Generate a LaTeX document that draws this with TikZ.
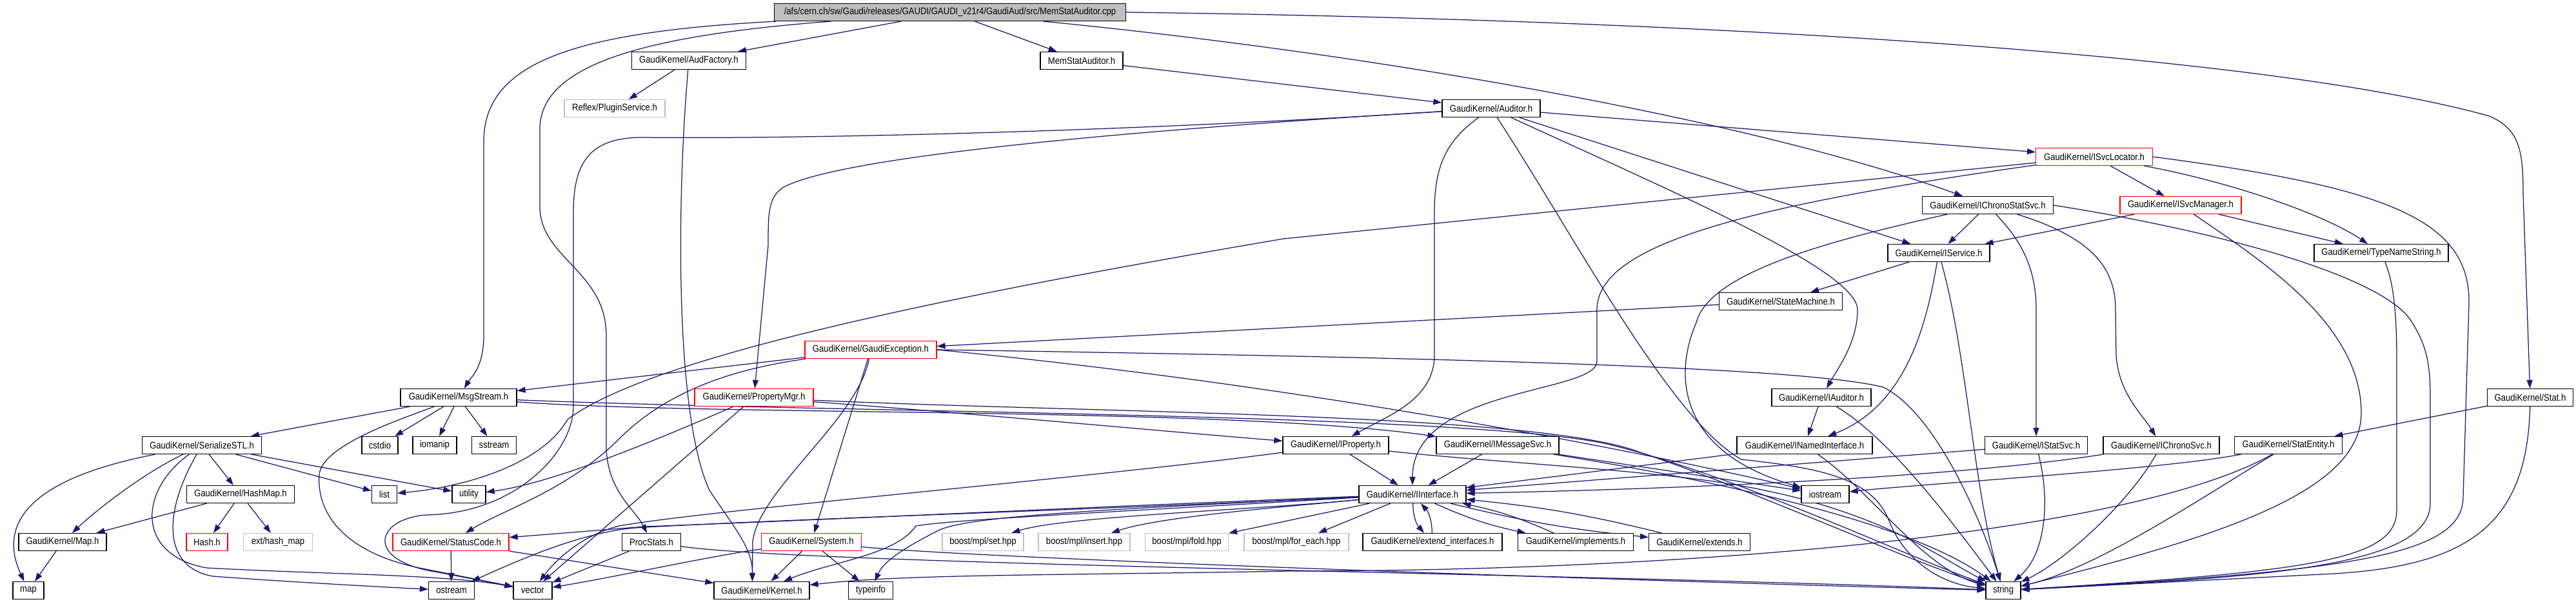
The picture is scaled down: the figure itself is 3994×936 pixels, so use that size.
\documentclass[tikz,border=0pt]{standalone}
\usepackage{fontspec}
\setmainfont{Liberation Sans}[FakeStretch=0.88]
\usepackage{tikz}
\usetikzlibrary{arrows.meta}
\definecolor{edgeblue}{HTML}{191970}
\definecolor{extgray}{HTML}{BFBFBF}
\newcommand{\gfont}{\fontsize{14.9pt}{16pt}\selectfont}
\pgfdeclarelayer{bg}
\pgfsetlayers{bg,main}

\begin{document}
\begin{tikzpicture}[x=1pt, y=-1pt,
  every node/.style={font=\gfont},
  file/.style={rectangle, draw=black, line width=1.2pt, fill=white, minimum height=27pt, inner sep=3pt},
  hidfile/.style={file, draw=red},
  extfile/.style={file, draw=extgray},
  srcfile/.style={file, fill=extgray},
  dep/.style={draw=edgeblue, line width=1.25pt, -{Triangle[length=13pt,width=9pt]}}
]
\useasboundingbox (0,0) rectangle (3994,936);

%========== top rows ==========
\node[srcfile, minimum width=545pt] (root) at (1473,19) {/afs/cern.ch/sw/Gaudi/releases/GAUDI/GAUDI\_v21r4/GaudiAud/src/MemStatAuditor.cpp};
\node[file, minimum width=177pt] (audfac) at (1068,94) {GaudiKernel/AudFactory.h};
\node[file, minimum width=128pt] (memaud) at (1677,94) {MemStatAuditor.h};
\node[extfile, minimum width=156pt] (plugin) at (953,168) {Reflex/PluginService.h};
\node[file, minimum width=152pt] (auditor) at (2312,168) {GaudiKernel/Auditor.h};
\node[hidfile, minimum width=181pt] (svcloc) at (3247,243) {GaudiKernel/ISvcLocator.h};
\node[file, minimum width=203pt] (chronostat) at (3082,318) {GaudiKernel/IChronoStatSvc.h};
\node[hidfile, minimum width=188pt] (svcmgr) at (3381,318) {GaudiKernel/ISvcManager.h};
\node[file, minimum width=158pt] (iservice) at (3006,392) {GaudiKernel/IService.h};
\node[file, minimum width=208pt] (tnstring) at (3692,392) {GaudiKernel/TypeNameString.h};
\node[file, minimum width=191pt] (statemach) at (2761,467) {GaudiKernel/StateMachine.h};
\node[hidfile, minimum width=204pt] (gexc) at (1350,542) {GaudiKernel/GaudiException.h};

%========== middle rows ==========
\node[file, minimum width=180pt] (msgstream) at (711,616) {GaudiKernel/MsgStream.h};
\node[hidfile, minimum width=184pt] (propmgr) at (1169,616) {GaudiKernel/PropertyMgr.h};
\node[file, minimum width=154pt] (iauditor) at (2824,616) {GaudiKernel/IAuditor.h};
\node[file, minimum width=133pt] (stat) at (3923,616) {GaudiKernel/Stat.h};

\node[file, minimum width=185pt] (serial) at (313,690) {GaudiKernel/SerializeSTL.h};
\node[file, minimum width=56pt] (cstdio) at (589,690) {cstdio};
\node[file, minimum width=68pt] (iomanip) at (674,690) {iomanip};
\node[file, minimum width=69pt] (sstream) at (766,690) {sstream};
\node[file, minimum width=164pt] (iprop) at (2071,690) {GaudiKernel/IProperty.h};
\node[file, minimum width=190pt] (imsgsvc) at (2322,690) {GaudiKernel/IMessageSvc.h};
\node[file, minimum width=210pt] (inamed) at (2798,690) {GaudiKernel/INamedInterface.h};
\node[file, minimum width=159pt] (istatsvc) at (3157,690) {GaudiKernel/IStatSvc.h};
\node[file, minimum width=180pt] (ichrono) at (3351,690) {GaudiKernel/IChronoSvc.h};
\node[file, minimum width=167pt] (statentity) at (3548,690) {GaudiKernel/StatEntity.h};

\node[file, minimum width=167pt] (hashmap) at (373,766) {GaudiKernel/HashMap.h};
\node[file, minimum width=39pt] (list) at (596,766) {list};
\node[file, minimum width=52pt] (utility) at (727,766) {utility};
\node[file, minimum width=166pt] (iiface) at (2190,766) {GaudiKernel/IInterface.h};
\node[file, minimum width=74pt] (iostream) at (2830,766) {iostream};

%========== bottom rows ==========
\node[file, minimum width=136pt] (mapH) at (97,840) {GaudiKernel/Map.h};
\node[hidfile, minimum width=64pt] (hash) at (321,840) {Hash.h};
\node[extfile, minimum width=107pt] (exthash) at (431,840) {ext/hash\_map};
\node[hidfile, minimum width=180pt] (statcode) at (699,840) {GaudiKernel/StatusCode.h};
\node[file, minimum width=91pt] (procstats) at (1010,840) {ProcStats.h};
\node[hidfile, minimum width=155pt] (system) at (1258,840) {GaudiKernel/System.h};
\node[extfile, minimum width=126pt] (mplset) at (1524,840) {boost/mpl/set.hpp};
\node[extfile, minimum width=142pt] (mplinsert) at (1681,840) {boost/mpl/insert.hpp};
\node[extfile, minimum width=129pt] (mplfold) at (1840,840) {boost/mpl/fold.hpp};
\node[extfile, minimum width=162pt] (mplforeach) at (2010,840) {boost/mpl/for\_each.hpp};
\node[file, minimum width=216pt] (extif) at (2221,840) {GaudiKernel/extend\_interfaces.h};
\node[file, minimum width=179pt] (implements) at (2443,840) {GaudiKernel/implements.h};
\node[file, minimum width=157pt] (extends) at (2635,840) {GaudiKernel/extends.h};

\node[file, minimum width=48pt] (map) at (44,915) {map};
\node[file, minimum width=71pt] (ostream) at (700,915) {ostream};
\node[file, minimum width=60pt] (vector) at (826,915) {vector};
\node[file, minimum width=148pt] (kernel) at (1181,915) {GaudiKernel/Kernel.h};
\node[file, minimum width=69pt] (typeinfo) at (1350,915) {typeinfo};
\node[file, minimum width=54pt] (string) at (3106,915) {string};

\begin{pgfonlayer}{bg}
\fill[white] (0,0) rectangle (3994,936);
%========== source file ==========
\draw[dep] (root) -- (audfac);
\draw[dep] (root) -- (memaud);
\draw[dep] (root) .. controls (880,50) and (750,100) .. (750,220) -- (750,520) .. controls (750,570) and (730,585) .. (msgstream);
\draw[dep] (root) .. controls (1000,55) and (837,100) .. (837,200) -- (837,320) .. controls (837,400) and (940,420) .. (940,520) -- (940,690) .. controls (940,760) and (985,790) .. (procstats);
\draw[dep] (root) .. controls (2100,80) and (2700,180) .. (chronostat);
\draw[dep] (root.east) .. controls (2600,30) and (3500,80) .. (3860,180) .. controls (3905,200) and (3912,230) .. (3912,300) -- (stat);

%========== AudFactory, MemStatAuditor, Auditor ==========
\draw[dep] (audfac) -- (plugin);
\draw[dep] (audfac) .. controls (1050,300) and (1045,640) .. (1100,760) .. controls (1140,820) and (1167,850) .. ([xshift=60pt]kernel.north west);
\draw[dep] (memaud) -- (auditor);
\draw[dep] (auditor) .. controls (2240,220) and (2224,260) .. (2224,330) -- (2224,550) .. controls (2224,620) and (2150,645) .. (iprop);
\draw[dep] (auditor) .. controls (2600,300) and (2880,420) .. (2880,480) .. controls (2880,530) and (2850,570) .. (iauditor);
\draw[dep] (auditor) -- (iservice);
\draw[dep] (auditor) -- (svcloc);
\draw[dep] (auditor) .. controls (1700,205) and (1300,245) .. (1215,290) .. controls (1191,305) and (1191,330) .. (1191,380) -- (propmgr);
\draw[dep] (auditor) .. controls (1650,210) and (1150,215) .. (1000,213) .. controls (915,212) and (889,250) .. (889,330) -- (889,630) .. controls (889,700) and (800,796) .. (660,798) .. controls (580,805) and (565,870) .. (680,887) -- (vector);
\draw[dep] (auditor) .. controls (2450,380) and (2590,650) .. (2700,712) .. controls (2820,725) and (2905,740) .. (2930,810) .. controls (2955,870) and (3010,905) .. (string);

%========== service locator and managers ==========
\draw[dep] (svcloc) -- (svcmgr);
\draw[dep] (svcloc) .. controls (3450,280) and (3600,330) .. (tnstring);
\draw[dep] (svcloc) .. controls (2700,320) and (2476,380) .. (2476,480) -- (2476,560) .. controls (2476,610) and (2190,600) .. (iiface);
\draw[dep] (svcloc) -- (1990,370) .. controls (1400,470) and (1000,560) .. (880,650) .. controls (840,720) and (720,755) .. (list);
\draw[dep] (svcloc.east) .. controls (3700,290) and (3830,340) .. (3828,470) -- (3819,770) .. controls (3819,860) and (3650,885) .. (string);
\draw[dep] (svcmgr) -- (iservice);
\draw[dep] (svcmgr) -- (tnstring);
\draw[dep] (svcmgr) .. controls (3500,400) and (3661,500) .. (3661,640) .. controls (3661,760) and (3450,830) .. (string);
\draw[dep] (tnstring) .. controls (3712,440) and (3716,490) .. (3716,560) -- (3716,790) .. controls (3716,865) and (3600,885) .. (string);

%========== chrono and services ==========
\draw[dep] (chronostat) -- (iservice);
\draw[dep] (chronostat) .. controls (3120,360) and (3157,400) .. (3157,480) -- (istatsvc);
\draw[dep] (chronostat) .. controls (3250,370) and (3280,420) .. (3280,480) -- (3281,550) .. controls (3285,610) and (3320,640) .. (ichrono);
\draw[dep] (chronostat.east) .. controls (3450,360) and (3700,430) .. (3740,500) .. controls (3765,540) and (3768,570) .. (3768,620) -- (3768,780) .. controls (3768,880) and (3500,895) .. (string);
\draw[dep] (chronostat) .. controls (2850,370) and (2650,420) .. (2630,500) .. controls (2595,580) and (2600,700) .. (iostream);
\draw[dep] (iservice) -- (statemach);
\draw[dep] (iservice) .. controls (2990,480) and (2965,625) .. (inamed);
\draw[dep] (iservice) .. controls (3050,550) and (3060,760) .. (string);
\draw[dep] (statemach) -- (gexc);

%========== GaudiException ==========
\draw[dep] (gexc) -- (msgstream);
\draw[dep] (gexc) .. controls (1150,570) and (1040,600) .. (960,680) .. controls (880,760) and (780,790) .. (statcode);
\draw[dep] (gexc) .. controls (1330,650) and (1175,760) .. (1167,840) -- ([xshift=60pt]kernel.north west);
\draw[dep] (gexc) -- (system);
\draw[dep] (gexc.east) .. controls (2300,555) and (2800,570) .. (2920,600) .. controls (3000,640) and (3070,800) .. (string);
\draw[dep] (gexc.east) .. controls (2000,595) and (2500,690) .. (iostream);

%========== MsgStream and PropertyMgr ==========
\draw[dep] (msgstream) -- (serial);
\draw[dep] (msgstream) -- (cstdio);
\draw[dep] (msgstream) -- (iomanip);
\draw[dep] (msgstream) -- (sstream);
\draw[dep] (msgstream) .. controls (620,650) and (500,690) .. (495,735) .. controls (490,800) and (540,860) .. (660,882) -- (vector);
\draw[dep] (msgstream) .. controls (1100,645) and (1900,630) .. (imsgsvc);
\draw[dep] (msgstream) .. controls (1300,640) and (2300,640) .. (2500,690) .. controls (2700,740) and (2950,860) .. (string);
\draw[dep] (propmgr) .. controls (1500,640) and (1800,668) .. (iprop);
\draw[dep] (propmgr) .. controls (1000,690) and (850,750) .. (utility);
\draw[dep] (propmgr) -- (vector);
\draw[dep] (propmgr) .. controls (1700,640) and (2380,640) .. (2540,700) .. controls (2720,760) and (2960,870) .. (string);

%========== interfaces ==========
\draw[dep] (iprop) -- (iiface);
\draw[dep] (iprop) .. controls (2300,715) and (2500,725) .. (2650,745) .. controls (2900,780) and (3000,860) .. (string);
\draw[dep] (iprop) .. controls (1700,740) and (1100,790) .. (960,815) .. controls (900,830) and (860,870) .. (vector);
\draw[dep] (imsgsvc) -- (iiface);
\draw[dep] (imsgsvc) -- (iostream);
\draw[dep] (imsgsvc) .. controls (2600,735) and (2950,800) .. (string);
\draw[dep] (iauditor) -- (inamed);
\draw[dep] (iauditor) .. controls (2930,680) and (3020,800) .. (string);
\draw[dep] (inamed) -- (iiface);
\draw[dep] (inamed) .. controls (2900,760) and (2980,880) .. (string);
\draw[dep] (istatsvc) -- (iiface);
\draw[dep] (istatsvc) .. controls (3180,780) and (3170,860) .. (string);
\draw[dep] (ichrono) .. controls (3000,745) and (2500,760) .. (iiface);
\draw[dep] (ichrono) .. controls (3300,780) and (3200,870) .. (string);
\draw[dep] (statentity) .. controls (3350,728) and (3000,748) .. (iostream);
\draw[dep] (statentity) .. controls (3400,780) and (3250,880) .. (string);
\draw[dep] (statentity) .. controls (3300,830) and (2600,885) .. (2000,885) .. controls (1600,892) and (1400,890) .. (kernel);
\draw[dep] (stat) -- (statentity);
\draw[dep] (stat) .. controls (3918,820) and (3820,880) .. (3600,890) -- (string);

%========== IInterface ==========
\draw[dep] (iiface) to[bend right=20] (extif);
\draw[dep] (extif) to[bend right=20] (iiface);
\draw[dep] (iiface) to[bend right=6] (implements);
\draw[dep] (implements) to[bend right=6] (iiface);
\draw[dep] (iiface) to[bend right=4] (extends);
\draw[dep] (extends) to[bend right=4] (iiface);
\draw[dep] (iiface) -- (mplforeach);
\draw[dep] (iiface) -- (mplfold);
\draw[dep] (iiface) .. controls (2000,785) and (1800,800) .. (mplinsert);
\draw[dep] (iiface) .. controls (1950,790) and (1650,800) .. (mplset);
\draw[dep] (iiface) .. controls (1700,790) and (1500,800) .. (1455,822) .. controls (1400,850) and (1370,870) .. (typeinfo);
\draw[dep] (iiface) .. controls (1700,795) and (1480,805) .. (1420,815) .. controls (1390,860) and (1290,870) .. (kernel);
\draw[dep] (iiface) .. controls (1700,785) and (1300,805) .. (1000,816) -- (statcode);
\draw[dep] (iiface) .. controls (1700,790) and (1200,805) .. (985,818) .. controls (900,825) and (800,870) .. (ostream);

%========== STL side ==========
\draw[dep] (serial) .. controls (30,745) and (0,820) .. (map);
\draw[dep] (serial) .. controls (220,735) and (150,790) .. (mapH);
\draw[dep] (serial) -- (hashmap);
\draw[dep] (serial) -- (list);
\draw[dep] (serial) -- (utility);
\draw[dep] (serial) .. controls (250,800) and (255,880) .. (330,893) .. controls (450,902) and (600,910) .. (ostream);
\draw[dep] (serial) .. controls (215,760) and (210,860) .. (320,880) .. controls (500,890) and (690,890) .. (vector);
\draw[dep] (hashmap) -- (mapH);
\draw[dep] (hashmap) -- (hash);
\draw[dep] (hashmap) -- (exthash);
\draw[dep] (mapH) -- (map);

%========== bottom row ==========
\draw[dep] (statcode) -- (ostream);
\draw[dep] (statcode) -- (kernel);
\draw[dep] (procstats) -- (vector);
\draw[dep] (procstats) .. controls (1250,875) and (2500,890) .. (string);
\draw[dep] (system) -- (kernel);
\draw[dep] (system) -- (typeinfo);
\draw[dep] (system) .. controls (1100,862) and (950,895) .. (vector);
\draw[dep] (system) .. controls (1550,868) and (2700,905) .. (string);
\end{pgfonlayer}

\end{tikzpicture}
\end{document}
